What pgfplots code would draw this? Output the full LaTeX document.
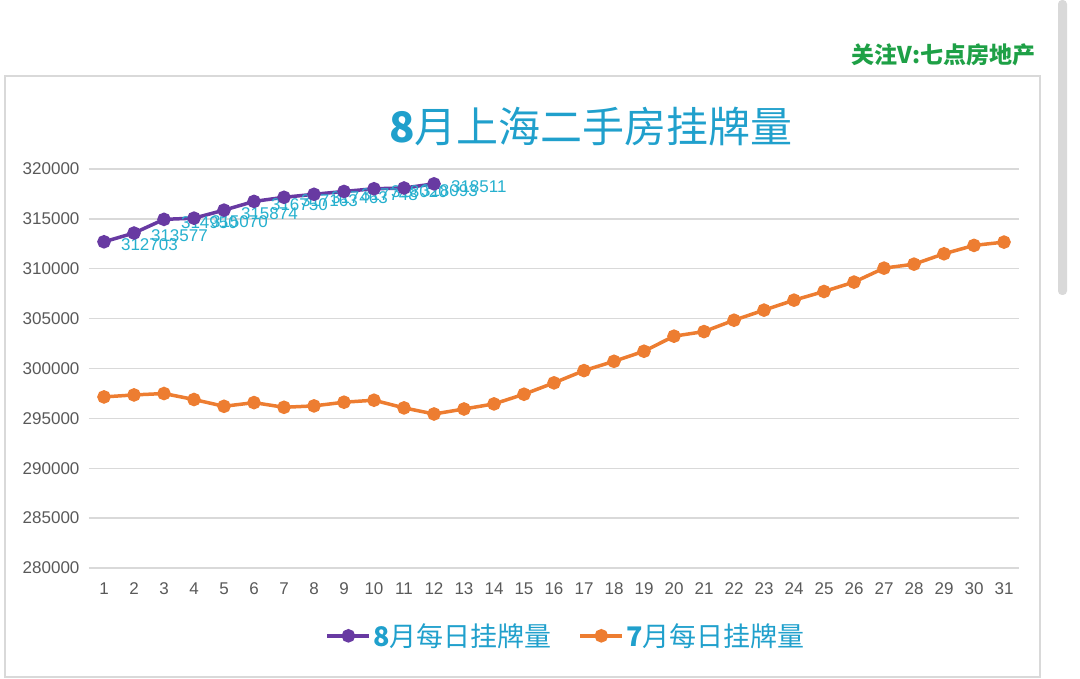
\documentclass[border=0pt]{standalone}
\usepackage{fontspec}
\setmainfont{Liberation Sans}
\newfontfamily\cjk{Noto Sans CJK SC}
\usepackage{pgfplots}
\pgfplotsset{compat=1.18}
\definecolor{augc}{RGB}{104,58,162}
\definecolor{julc}{RGB}{237,125,49}
\definecolor{titc}{RGB}{32,160,204}
\definecolor{labc}{RGB}{38,176,206}
\definecolor{gridc}{RGB}{217,217,217}
\definecolor{tickc}{RGB}{89,89,89}
\definecolor{wmc}{RGB}{30,160,70}
\begin{document}
\begin{tikzpicture}[x=1pt,y=1pt]
\useasboundingbox (0,0) rectangle (1080,679);
\draw[gridc, line width=1.2pt] (5,2) rectangle (1040,603);
\fill[gridc, rounded corners=4pt] (1058,384) rectangle (1067,679);
\node[anchor=east, text=wmc, font=\cjk\bfseries\fontsize{23}{25}\selectfont] at (1039,624) {关注V:七点房地产};
\node[text=titc, font=\cjk\fontsize{42}{46}\selectfont] at (591,552) {{\bfseries 8}月上海二手房挂牌量};
\begin{axis}[at={(89pt,111pt)}, anchor=south west, scale only axis,
  width=930pt, height=399pt,
  xmin=0.5, xmax=31.5, ymin=280000, ymax=320000,
  xtick={1,...,31}, ytick={280000,285000,...,320000},
  ymajorgrids, grid style={gridc, line width=1.3pt},
  axis line style={draw=none}, major tick style={draw=none},
  scaled y ticks=false,
  /pgf/number format/assume math mode=true,
  /pgf/number format/1000 sep={},
  /pgf/number format/fixed,
  ticklabel style={font=\fontsize{17}{20}\selectfont, text=tickc},
  yticklabel style={xshift=-6pt},
  xticklabel style={yshift=-11pt},
  clip=false,
  legend style={at={(0.513,-0.170)}, anchor=center, draw=none, fill=none,
    legend columns=2, font=\cjk\fontsize{27}{29}\selectfont, text=titc,
    /tikz/every even column/.append style={column sep=25pt}},
  legend image code/.code={\draw[mark repeat=2,mark phase=2,#1] plot coordinates {(0pt,0pt) (21pt,0pt) (42pt,0pt)};},
]
\addplot[augc, line width=3.5pt, mark=*, mark size=5pt,
  nodes near coords,
  every node near coord/.append style={anchor=west, xshift=12pt, yshift=-3pt, text=labc, font=\fontsize{17}{20}\selectfont}]
coordinates {
(1,312703) (2,313577) (3,314950) (4,315070) (5,315874) (6,316750)
(7,317163) (8,317463) (9,317748) (10,318020) (11,318093) (12,318511)
};
\addlegendentry{{\bfseries 8}月每日挂牌量}
\addplot[julc, line width=3.5pt, mark=*, mark size=5pt]
coordinates {
(1,297150) (2,297350) (3,297490) (4,296890) (5,296210) (6,296580)
(7,296110) (8,296250) (9,296620) (10,296820) (11,296050) (12,295440)
(13,295940) (14,296450) (15,297420) (16,298560) (17,299790) (18,300720)
(19,301730) (20,303240) (21,303700) (22,304840) (23,305850) (24,306850)
(25,307720) (26,308660) (27,310060) (28,310460) (29,311500) (30,312340)
(31,312670)
};
\addlegendentry{{\bfseries 7}月每日挂牌量}
\end{axis}
\end{tikzpicture}
\end{document}
